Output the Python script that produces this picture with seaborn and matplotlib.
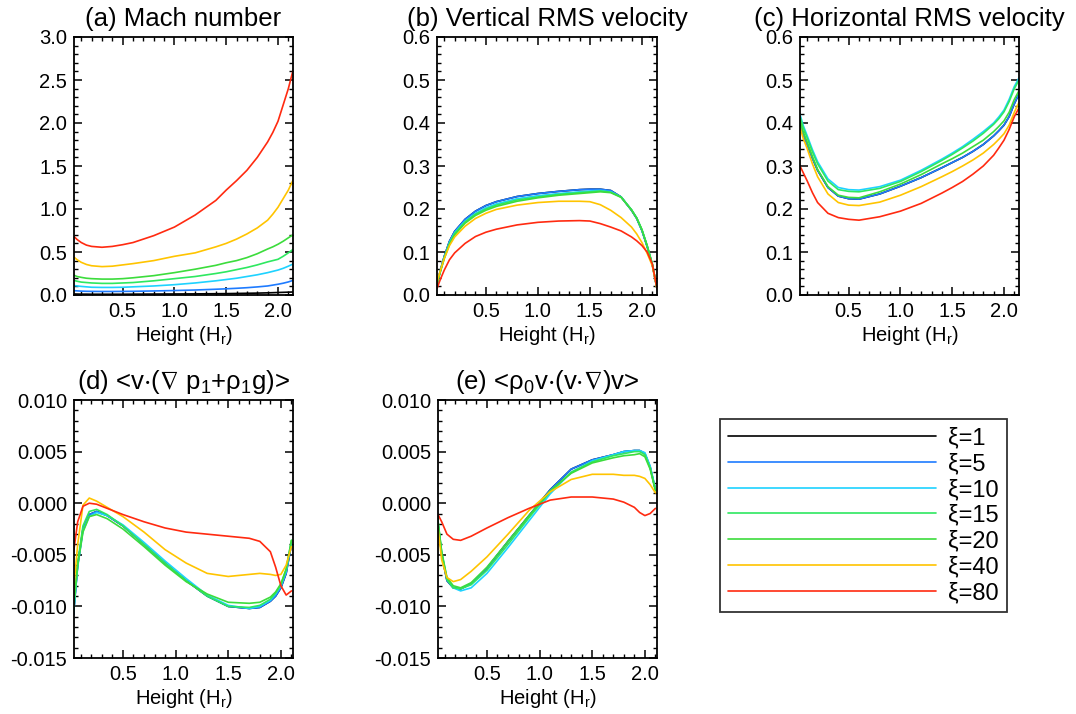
import numpy as np
import pandas as pd
import matplotlib
matplotlib.use("Agg")
import matplotlib.pyplot as plt
from matplotlib.ticker import MultipleLocator, FormatStrFormatter
from matplotlib.lines import Line2D
import seaborn as sns

# data
xi_labels = ['ξ=1', 'ξ=5', 'ξ=10', 'ξ=15', 'ξ=20', 'ξ=40', 'ξ=80']
colors = ['#000000', '#1e7bff', '#1ed2ff', '#2ee860', '#3cdc3c', '#ffc400', '#ff2a10']

h_top = [0.03, 0.06, 0.1, 0.15, 0.2, 0.3, 0.4, 0.5, 0.6, 0.8, 1.0, 1.2, 1.4, 1.5, 1.6, 1.7, 1.8, 1.9, 1.95, 2.0, 2.05, 2.1, 2.145]
h_bot = [0.03, 0.07, 0.12, 0.18, 0.25, 0.35, 0.5, 0.7, 0.9, 1.1, 1.3, 1.5, 1.7, 1.8, 1.9, 1.95, 2.0, 2.05, 2.1]

# (a) Mach number
mach = [
    [0.012, 0.011, 0.01, 0.01, 0.009, 0.009, 0.009, 0.009, 0.01, 0.011, 0.012, 0.013, 0.015, 0.016, 0.018, 0.02, 0.022, 0.025, 0.027, 0.029, 0.031, 0.033, 0.035],
    [0.05, 0.048, 0.045, 0.043, 0.042, 0.041, 0.041, 0.042, 0.043, 0.047, 0.052, 0.058, 0.067, 0.072, 0.078, 0.085, 0.094, 0.105, 0.115, 0.125, 0.137, 0.152, 0.17],
    [0.11, 0.105, 0.10, 0.095, 0.09, 0.088, 0.088, 0.09, 0.095, 0.105, 0.12, 0.14, 0.165, 0.18, 0.195, 0.215, 0.235, 0.26, 0.275, 0.29, 0.31, 0.335, 0.36],
    [0.17, 0.16, 0.15, 0.145, 0.14, 0.135, 0.135, 0.14, 0.145, 0.165, 0.19, 0.215, 0.25, 0.27, 0.295, 0.32, 0.35, 0.385, 0.40, 0.415, 0.45, 0.49, 0.53],
    [0.23, 0.215, 0.205, 0.195, 0.19, 0.185, 0.185, 0.19, 0.20, 0.225, 0.26, 0.30, 0.345, 0.375, 0.40, 0.435, 0.48, 0.535, 0.56, 0.59, 0.625, 0.665, 0.70],
    [0.44, 0.41, 0.38, 0.355, 0.34, 0.33, 0.335, 0.35, 0.365, 0.40, 0.45, 0.49, 0.56, 0.60, 0.65, 0.71, 0.78, 0.87, 0.94, 1.02, 1.12, 1.22, 1.335],
    [0.68, 0.645, 0.61, 0.58, 0.565, 0.555, 0.565, 0.585, 0.61, 0.69, 0.79, 0.93, 1.10, 1.22, 1.33, 1.45, 1.60, 1.78, 1.89, 2.02, 2.21, 2.40, 2.61],
]

# (b) vertical RMS velocity
vrms = [
    [0.025, 0.055, 0.09, 0.125, 0.148, 0.176, 0.195, 0.208, 0.217, 0.229, 0.236, 0.241, 0.245, 0.246, 0.246, 0.243, 0.228, 0.197, 0.178, 0.150, 0.113, 0.07, 0.015],
    [0.025, 0.055, 0.09, 0.125, 0.148, 0.176, 0.195, 0.208, 0.217, 0.229, 0.236, 0.241, 0.245, 0.246, 0.246, 0.243, 0.228, 0.197, 0.178, 0.150, 0.113, 0.07, 0.015],
    [0.025, 0.054, 0.088, 0.122, 0.145, 0.172, 0.19, 0.203, 0.212, 0.224, 0.231, 0.236, 0.240, 0.242, 0.243, 0.240, 0.228, 0.198, 0.179, 0.151, 0.114, 0.071, 0.015],
    [0.025, 0.053, 0.087, 0.12, 0.143, 0.17, 0.188, 0.2, 0.209, 0.221, 0.228, 0.234, 0.238, 0.240, 0.242, 0.239, 0.228, 0.198, 0.179, 0.152, 0.115, 0.072, 0.015],
    [0.025, 0.052, 0.085, 0.118, 0.14, 0.167, 0.185, 0.197, 0.206, 0.218, 0.226, 0.232, 0.236, 0.238, 0.240, 0.238, 0.227, 0.198, 0.179, 0.152, 0.115, 0.072, 0.015],
    [0.03, 0.055, 0.085, 0.115, 0.135, 0.16, 0.178, 0.19, 0.199, 0.209, 0.215, 0.218, 0.218, 0.217, 0.210, 0.197, 0.180, 0.158, 0.142, 0.122, 0.097, 0.068, 0.015],
    [0.015, 0.035, 0.058, 0.082, 0.098, 0.12, 0.136, 0.146, 0.153, 0.163, 0.169, 0.172, 0.173, 0.172, 0.166, 0.158, 0.149, 0.135, 0.126, 0.115, 0.10, 0.072, 0.015],
]

# (c) horizontal RMS velocity
hrms = [
    [0.40, 0.375, 0.35, 0.318, 0.29, 0.25, 0.23, 0.224, 0.223, 0.235, 0.253, 0.273, 0.296, 0.308, 0.32, 0.334, 0.35, 0.37, 0.382, 0.395, 0.415, 0.445, 0.468],
    [0.40, 0.375, 0.35, 0.318, 0.29, 0.25, 0.23, 0.224, 0.223, 0.235, 0.253, 0.273, 0.296, 0.308, 0.32, 0.334, 0.35, 0.37, 0.382, 0.395, 0.415, 0.445, 0.468],
    [0.42, 0.395, 0.37, 0.338, 0.31, 0.27, 0.25, 0.245, 0.244, 0.252, 0.267, 0.29, 0.316, 0.33, 0.345, 0.362, 0.38, 0.4, 0.414, 0.43, 0.455, 0.485, 0.505],
    [0.415, 0.39, 0.365, 0.333, 0.305, 0.265, 0.245, 0.241, 0.24, 0.248, 0.264, 0.287, 0.313, 0.327, 0.342, 0.358, 0.376, 0.397, 0.41, 0.426, 0.45, 0.48, 0.5],
    [0.405, 0.38, 0.355, 0.322, 0.292, 0.252, 0.232, 0.227, 0.226, 0.24, 0.258, 0.28, 0.305, 0.317, 0.33, 0.345, 0.36, 0.38, 0.392, 0.405, 0.425, 0.455, 0.475],
    [0.39, 0.365, 0.34, 0.305, 0.275, 0.235, 0.215, 0.209, 0.208, 0.216, 0.232, 0.252, 0.275, 0.287, 0.3, 0.314, 0.33, 0.35, 0.362, 0.375, 0.395, 0.425, 0.448],
    [0.30, 0.285, 0.265, 0.238, 0.215, 0.19, 0.18, 0.176, 0.174, 0.182, 0.195, 0.213, 0.237, 0.25, 0.264, 0.281, 0.3, 0.325, 0.342, 0.36, 0.385, 0.415, 0.435],
]

# (d) <v.(grad p1 + rho1 g)>
work_p = [
    [-0.0108, -0.006, -0.0025, -0.0011, -0.0008, -0.0012, -0.0022, -0.0040, -0.0058, -0.0075, -0.0090, -0.0100, -0.0102, -0.0101, -0.0095, -0.0090, -0.0082, -0.0068, -0.0040],
    [-0.0108, -0.006, -0.0025, -0.0011, -0.0008, -0.0012, -0.0022, -0.0040, -0.0058, -0.0075, -0.0090, -0.0100, -0.0102, -0.0101, -0.0095, -0.0090, -0.0082, -0.0068, -0.0040],
    [-0.0108, -0.0062, -0.0027, -0.0013, -0.0009, -0.0012, -0.0021, -0.0038, -0.0056, -0.0073, -0.0089, -0.0099, -0.0102, -0.0100, -0.0094, -0.0088, -0.0080, -0.0066, -0.0038],
    [-0.0105, -0.0058, -0.0022, -0.0008, -0.0006, -0.0011, -0.0022, -0.0040, -0.0058, -0.0075, -0.0090, -0.0100, -0.0101, -0.0099, -0.0093, -0.0087, -0.0079, -0.0064, -0.0036],
    [-0.0100, -0.006, -0.0028, -0.0013, -0.0011, -0.0015, -0.0025, -0.0042, -0.0060, -0.0076, -0.0088, -0.0096, -0.0097, -0.0096, -0.0091, -0.0086, -0.0078, -0.0064, -0.0036],
    [-0.0085, -0.004, -0.0002, 0.0005, 0.0002, -0.0004, -0.0013, -0.0028, -0.0045, -0.0058, -0.0068, -0.0071, -0.0069, -0.0068, -0.0069, -0.0070, -0.0069, -0.0060, -0.0042],
    [-0.0048, -0.0018, -0.0003, 0.0, -0.0001, -0.0005, -0.0011, -0.0018, -0.0024, -0.0028, -0.0030, -0.0032, -0.0034, -0.0037, -0.0047, -0.0062, -0.0080, -0.0089, -0.0085],
]

# (e) <rho0 v.(v.grad)v>
work_adv = [
    [-0.0015, -0.0050, -0.0075, -0.0082, -0.0083, -0.0078, -0.0063, -0.0037, -0.0012, 0.0013, 0.0033, 0.0042, 0.0047, 0.0050, 0.0051, 0.0051, 0.0048, 0.0035, 0.0013],
    [-0.0015, -0.0050, -0.0075, -0.0082, -0.0083, -0.0078, -0.0063, -0.0037, -0.0012, 0.0013, 0.0033, 0.0042, 0.0047, 0.0050, 0.0051, 0.0051, 0.0048, 0.0035, 0.0013],
    [-0.0015, -0.0048, -0.0073, -0.0082, -0.0085, -0.0082, -0.0068, -0.0043, -0.0017, 0.0009, 0.0030, 0.0041, 0.0047, 0.0050, 0.0051, 0.0051, 0.0049, 0.0036, 0.0014],
    [-0.0013, -0.0048, -0.0074, -0.0082, -0.0083, -0.0079, -0.0065, -0.0040, -0.0014, 0.0011, 0.0030, 0.0040, 0.0046, 0.0048, 0.0050, 0.0050, 0.0047, 0.0034, 0.0013],
    [-0.0013, -0.0047, -0.0072, -0.0080, -0.0082, -0.0077, -0.0062, -0.0037, -0.0012, 0.0012, 0.0029, 0.0039, 0.0044, 0.0046, 0.0047, 0.0048, 0.0045, 0.0033, 0.0012],
    [-0.0020, -0.0055, -0.0072, -0.0076, -0.0074, -0.0066, -0.0052, -0.0030, -0.0007, 0.0011, 0.0023, 0.0028, 0.0028, 0.0027, 0.0027, 0.0026, 0.0024, 0.0018, 0.0010],
    [-0.0010, -0.0018, -0.0030, -0.0035, -0.0036, -0.0032, -0.0024, -0.0014, -0.0005, 0.0003, 0.0006, 0.0006, 0.0004, 0.0001, -0.0004, -0.0009, -0.0012, -0.0010, -0.0005],
]

titles = ['(a) Mach number', '(b) Vertical RMS velocity', '(c) Horizontal RMS velocity',
          '(d) <v$\\cdot$($\\nabla$ p$_1$+ρ$_1$g)>', '(e) <ρ$_0$v$\\cdot$(v$\\cdot$$\\nabla$)v>']

sns.set_theme(style='ticks')
plt.rcParams['font.family'] = ['Liberation Sans', 'DejaVu Sans']
plt.rcParams['mathtext.fontset'] = 'custom'
plt.rcParams['mathtext.rm'] = 'Liberation Sans'
plt.rcParams['mathtext.it'] = 'Liberation Sans'
plt.rcParams['mathtext.bf'] = 'Liberation Sans:bold'
plt.rcParams['mathtext.default'] = 'rm'
plt.rcParams['mathtext.fallback'] = 'stixsans'
plt.rcParams['axes.unicode_minus'] = False
for key in ['text.color', 'axes.labelcolor', 'xtick.color', 'ytick.color', 'axes.edgecolor']:
    plt.rcParams[key] = 'black'


def long_df(h, series):
    rows = []
    for lab, vals in zip(xi_labels, series):
        for x, y in zip(h, vals):
            rows.append((x, y, lab))
    return pd.DataFrame(rows, columns=['height', 'value', 'xi'])


fig = plt.figure(figsize=(10.76, 7.14), dpi=100)
W, H = 1076, 714
boxes = [(74, 37, 293, 295), (437, 37, 657, 295), (800, 37, 1019, 295),
         (74, 400, 293, 658), (438, 400, 657, 658)]
panels = [(h_top, mach), (h_top, vrms), (h_top, hrms), (h_bot, work_p), (h_bot, work_adv)]
ylims = [(0, 3.0), (0, 0.6), (0, 0.6), (-0.015, 0.010), (-0.015, 0.010)]
ymaj = [0.5, 0.1, 0.1, 0.005, 0.005]
ymin_ = [0.1, 0.02, 0.02, 0.001, 0.001]
yfmt = ['%.1f', '%.1f', '%.1f', '%.3f', '%.3f']

for i, ((l, t, r, b), (h, series)) in enumerate(zip(boxes, panels)):
    ax = fig.add_axes([l / W, 1 - b / H, (r - l) / W, (b - t) / H])
    df = long_df(h, series)
    sns.lineplot(data=df, x='height', y='value', hue='xi', hue_order=xi_labels,
                 palette=colors, estimator=None, sort=False, legend=False,
                 linewidth=1.2, ax=ax)
    ax.set_xlim((0.03, 2.145) if i < 3 else (0.035, 2.115))
    ax.set_ylim(*ylims[i])
    ax.xaxis.set_major_locator(MultipleLocator(0.5))
    ax.xaxis.set_minor_locator(MultipleLocator(0.1))
    ax.yaxis.set_major_locator(MultipleLocator(ymaj[i]))
    ax.yaxis.set_minor_locator(MultipleLocator(ymin_[i]))
    ax.yaxis.set_major_formatter(FormatStrFormatter(yfmt[i]))
    ax.xaxis.set_major_formatter(FormatStrFormatter('%.1f'))
    ax.tick_params(which='both', direction='in', top=True, right=True, labelsize=14.5, pad=5,
                   colors='black')
    ax.tick_params(which='major', length=6, width=1.1)
    ax.tick_params(which='minor', length=3, width=1.0)
    for s in ax.spines.values():
        s.set_linewidth(1.3)
        s.set_color('black')
    ax.set_title(titles[i], fontsize=18.5, pad=8, color='black')
    ax.set_xlabel('Height (H$_r$)', fontsize=14.5, labelpad=2, color='black')
    ax.set_ylabel('')

handles = [Line2D([], [], color=c, linewidth=1.2) for c in colors]
leg = fig.legend(handles, xi_labels, loc='upper left', bbox_to_anchor=(720 / W, 1 - 419 / H),
                 borderaxespad=0, frameon=True, fancybox=False, fontsize=17,
                 handlelength=8.8, handletextpad=0.5, labelspacing=0.16,
                 borderpad=0.35)
leg.get_frame().set_edgecolor('black')
leg.get_frame().set_linewidth(1.3)
for txt in leg.get_texts():
    txt.set_color('black')

fig.savefig('out.png', dpi=100)
